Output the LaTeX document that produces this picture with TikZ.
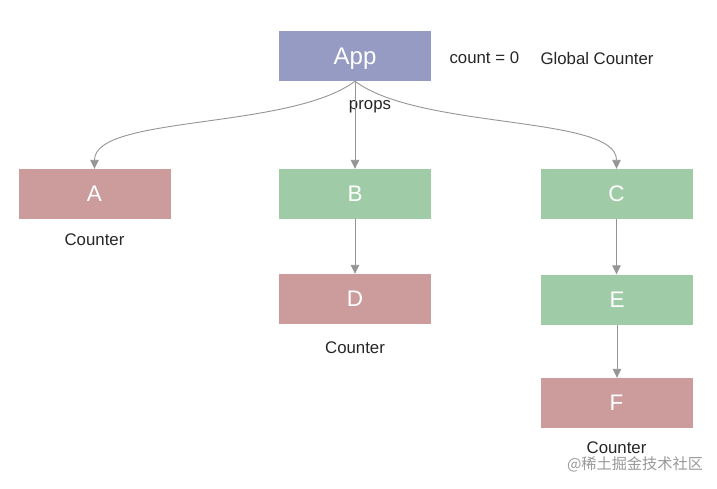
\documentclass[tikz,border=0pt]{standalone}
\usepackage{fontspec}
\setmainfont{Liberation Sans}
\newfontfamily\cjk{Noto Sans CJK SC}
\usepackage{xcolor}
\usetikzlibrary{arrows.meta}

\definecolor{appblue}{HTML}{959BC3}
\definecolor{ctrred}{HTML}{CC9C9C}
\definecolor{childgreen}{HTML}{9FCBA6}
\definecolor{edgegray}{HTML}{959595}

\tikzset{
    compbox/.style={minimum width=152pt, minimum height=50pt, inner sep=0pt,
        text depth=0pt, text=white, font=\fontsize{22.5}{22.5}\selectfont},
    label14/.style={font=\fontsize{16.8}{16.8}\selectfont, text=black!85},
    edge/.style={draw=edgegray, line width=0.9pt, -{Triangle[length=9pt, width=8.5pt]}}
}

\begin{document}
\begin{tikzpicture}[x=1pt, y=-1pt]
        \useasboundingbox[fill=white] (0, 0) rectangle (717, 488);

        \node[compbox, fill=appblue, font=\fontsize{24}{24}\selectfont] (app) at (355, 56) {App};
        \node[compbox, fill=ctrred] (a) at (94.5, 194) {A};
        \node[compbox, fill=childgreen] (b) at (355, 194) {B};
        \node[compbox, fill=childgreen] (c) at (616.5, 194) {C};
        \node[compbox, fill=ctrred] (d) at (355, 299) {D};
        \node[compbox, fill=childgreen] (e) at (617, 299.5) {E};
        \node[compbox, fill=ctrred] (f) at (616.5, 403) {F};

        \node[label14, anchor=west] (count) at (446, 58) {count = 0};
        \node[label14, anchor=west] (global) at (537, 58) {Global Counter};
        \node[label14] (props) at (370, 107) {props};
        \node[label14] (ca) at (94.5, 240) {Counter};
        \node[label14] (cd) at (355, 348) {Counter};
        \node[label14] (cf) at (616.5, 448) {Counter};
        \node[font=\cjk\fontsize{15.2}{15.2}\selectfont, text=black!40] (mark) at (635, 464) {@稀土掘金技术社区};

        \draw[edge] (app.south) .. controls (290, 130) and (94.5, 115) .. (a.north);
        \draw[edge] (app.south) -- (b.north);
        \draw[edge] (app.south) .. controls (420, 130) and (616.5, 115) .. (c.north);
        \draw[edge] (b.south) -- (d.north);
        \draw[edge] (c.south) -- (e.north -| c.south);
        \draw[edge] (e.south) -- (f.north -| e.south);
    \end{tikzpicture}
\end{document}
